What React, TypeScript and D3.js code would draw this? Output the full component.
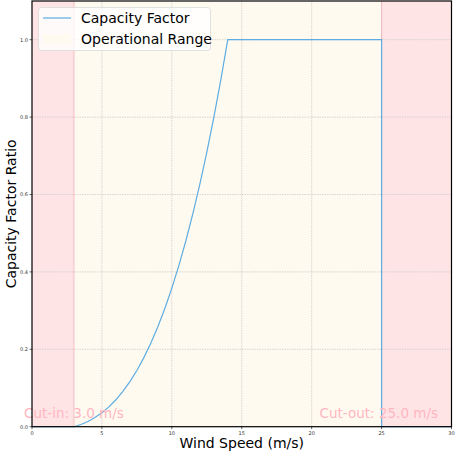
import React from "react";
import * as d3 from "d3";

const windSpeeds = [0, 3, 3.5, 4, 4.5, 5, 5.5, 6, 6.5, 7, 7.5, 8, 8.5, 9, 9.5, 10, 10.5, 11, 11.5, 12, 12.5, 13, 13.5, 14, 25, 25, 30];
const capacity = [0, 0, 0.0058, 0.0136, 0.0236, 0.0361, 0.0513, 0.0696, 0.0911, 0.1163, 0.1453, 0.1785, 0.2161, 0.2584, 0.3056, 0.3581, 0.4161, 0.4799, 0.5498, 0.6261, 0.7089, 0.7987, 0.8956, 1.0, 1.0, 0, 0];
const xTicks = [0, 5, 10, 15, 20, 25, 30];
const yTicks = [0, 0.2, 0.4, 0.6, 0.8, 1.0];
const cutIn = 3.0;
const cutOut = 25.0;

const W = 455, H = 453;
const m = { left: 32, right: 3.5, top: 1, bottom: 26.3 };
const font = "DejaVu Sans, sans-serif";

export default function App() {
  const x = d3.scaleLinear().domain([0, 30]).range([m.left, W - m.right]);
  const y = d3.scaleLinear().domain([0, 1.1]).range([H - m.bottom, m.top]);
  const pts = windSpeeds.map((v, i) => [v, capacity[i]] as [number, number]);
  const line = d3.line<[number, number]>().x(d => x(d[0])).y(d => y(d[1]));
  const [y0, y1] = y.range();
  const [x0, x1] = x.range();
  return (
    <svg width={W} height={H} style={{ position: "absolute", left: 0, top: 0 }} fontFamily={font}>
      <rect x={x0} y={y1} width={x(cutIn) - x0} height={y0 - y1} fill="#ffe4e6" />
      <rect x={x(cutIn)} y={y1} width={x(cutOut) - x(cutIn)} height={y0 - y1} fill="#fffaf0" />
      <rect x={x(cutOut)} y={y1} width={x1 - x(cutOut)} height={y0 - y1} fill="#ffe4e6" />
      {xTicks.slice(1, -1).map(t => (
        <line key={"gx" + t} x1={x(t)} x2={x(t)} y1={y0} y2={y1} stroke="#cccccc" strokeWidth={0.8} strokeDasharray="1.5,1" />
      ))}
      {yTicks.slice(1).map(t => (
        <line key={"gy" + t} x1={x0} x2={x1} y1={y(t)} y2={y(t)} stroke="#cccccc" strokeWidth={0.8} strokeDasharray="1.5,1" />
      ))}
      <line x1={x(cutIn)} x2={x(cutIn)} y1={y0} y2={y1} stroke="#f4b0ba" strokeWidth={0.8} />
      <line x1={x(cutOut)} x2={x(cutOut)} y1={y0} y2={y1} stroke="#f4b0ba" strokeWidth={0.8} />
      <path d={line(pts) || ""} fill="none" stroke="#5dade2" strokeWidth={1.2} />
      <text x={24} y={418} fontSize={13.5} fill="#ffb6c1">Cut-in: {cutIn.toFixed(1)} m/s</text>
      <text x={438} y={418} fontSize={13.5} fill="#ffb6c1" textAnchor="end">Cut-out: {cutOut.toFixed(1)} m/s</text>
      <rect x={x0} y={y1} width={x1 - x0} height={y0 - y1} fill="none" stroke="#000" strokeWidth={1.2} />
      {xTicks.map(t => (
        <g key={"xt" + t}>
          <line x1={x(t)} x2={x(t)} y1={y0} y2={y0 + 2.5} stroke="#000" strokeWidth={0.6} />
          <text x={x(t)} y={y0 + 8} fontSize={5} textAnchor="middle" fill="#333">{t}</text>
        </g>
      ))}
      {yTicks.map(t => (
        <g key={"yt" + t}>
          <line x1={x0 - 2.5} x2={x0} y1={y(t)} y2={y(t)} stroke="#000" strokeWidth={0.6} />
          <text x={x0 - 4} y={y(t) + 1.8} fontSize={5} textAnchor="end" fill="#333">{t.toFixed(1)}</text>
        </g>
      ))}
      <text x={(x0 + x1) / 2} y={448} fontSize={14} textAnchor="middle" fill="#000">Wind Speed (m/s)</text>
      <text transform={`translate(16,${(y0 + y1) / 2}) rotate(-90)`} fontSize={14} textAnchor="middle" fill="#000">Capacity Factor Ratio</text>
      <g>
        <rect x={38.5} y={7.5} width={172} height={43} rx={3} fill="#ffffff" fillOpacity={0.8} stroke="#d9d9d9" strokeWidth={0.8} />
        <line x1={43} x2={71} y1={18} y2={18} stroke="#5dade2" strokeWidth={1.2} />
        <text x={81} y={23} fontSize={14} fill="#000">Capacity Factor</text>
        <rect x={43} y={34} width={28} height={10} fill="#fffaf0" />
        <text x={81} y={44} fontSize={14} fill="#000">Operational Range</text>
      </g>
    </svg>
  );
}
